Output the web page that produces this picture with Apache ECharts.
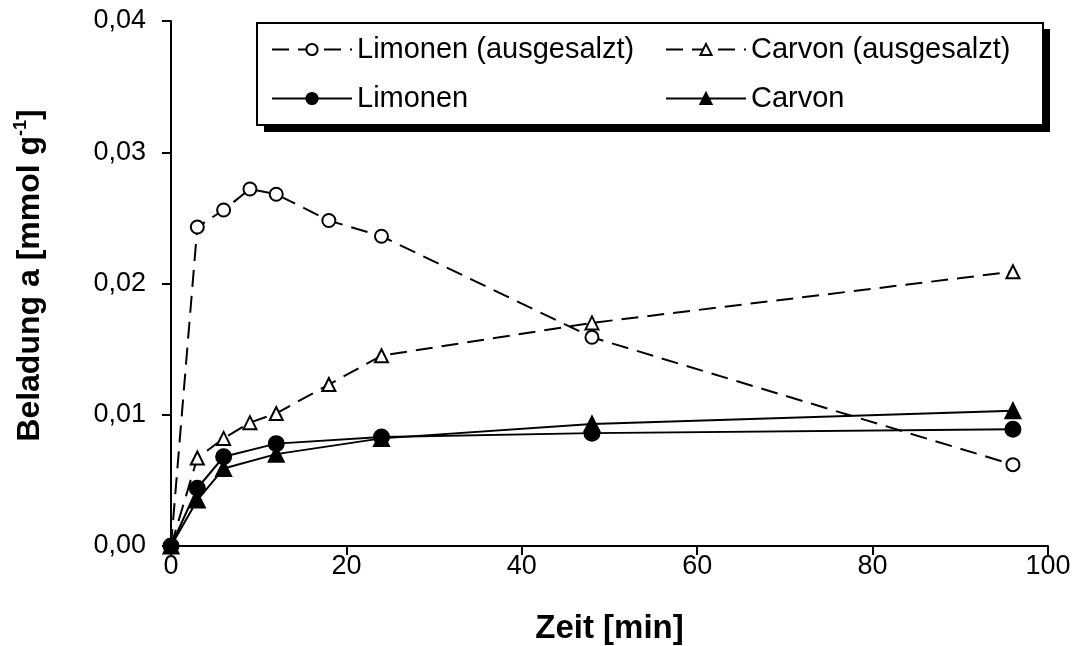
<!DOCTYPE html>
<html>
<head>
<meta charset="utf-8">
<script src="https://cdn.jsdelivr.net/npm/echarts@6/dist/echarts.min.js"></script>
<style>
html,body{margin:0;padding:0;background:#fff;}
#chart{width:1077px;height:646px;}
</style>
</head>
<body>
<div id="chart"></div>
<script>
// Data
const seriesNames = ['Limonen (ausgesalzt)', 'Carvon (ausgesalzt)', 'Limonen', 'Carvon'];
const xSalted = [0, 3, 6, 9, 12, 18, 24, 48, 96];
const limonenSalted = [0, 0.0243, 0.0256, 0.0272, 0.0268, 0.0248, 0.0236, 0.0159, 0.0062];
const carvonSalted = [0, 0.0067, 0.0082, 0.0094, 0.0101, 0.0123, 0.0145, 0.0170, 0.0209];
const xPlain = [0, 3, 6, 12, 24, 48, 96];
const limonenPlain = [0, 0.0044, 0.0068, 0.0078, 0.0083, 0.0086, 0.0089];
const carvonPlain = [0, 0.0035, 0.0059, 0.0070, 0.0082, 0.0093, 0.0103];
const xTicks = [0, 20, 40, 60, 80, 100];
const yTicks = [0, 0.01, 0.02, 0.03, 0.04];

function pairs(xs, ys) { return xs.map((x, i) => [x, ys[i]]); }

const FONT = 'Liberation Sans, Arial, sans-serif';
const chart = echarts.init(document.getElementById('chart'), null, {renderer: 'canvas'});

function mkSeries(name, data, dashed, symbol, filled) {
  return {
    name: name,
    type: 'line',
    data: data,
    symbol: symbol,
    symbolSize: filled ? 15 : 13,
    lineStyle: {color: '#000', width: 2, type: dashed ? [17, 9] : 'solid'},
    itemStyle: {color: filled ? '#000' : '#fff', borderColor: '#000', borderWidth: 2, opacity: 1},
    emphasis: {disabled: true},
    animation: false,
    z: 2
  };
}

const option = {
  backgroundColor: '#fff',
  animation: false,
  grid: {left: 171, right: 29, top: 21, bottom: 100, containLabel: false, outerBoundsMode: 'none'},
  graphic: [{
    type: 'rect', z: 0, silent: true,
    shape: {x: 264, y: 29, width: 786, height: 103},
    style: {fill: '#000'}
  }],
  legend: {
    left: 257, top: 23,
    width: 780,
    padding: [11, 2, 11, 14],
    itemWidth: 80, itemHeight: 14,
    itemGap: 18,
    backgroundColor: '#fff',
    borderColor: '#000', borderWidth: 2,
    z: 5,
    selectedMode: false,
    textStyle: {fontFamily: FONT, fontSize: 29, color: '#000', width: 290, lineHeight: 31},
    data: seriesNames
  },
  xAxis: {
    type: 'value', min: 0, max: 100, interval: 20,
    name: 'Zeit [min]', nameLocation: 'middle', nameGap: 66,
    nameTextStyle: {fontFamily: FONT, fontSize: 33, fontWeight: 'bold', color: '#000'},
    axisLine: {show: true, onZero: false, lineStyle: {color: '#000', width: 2}},
    axisTick: {show: true, inside: false, length: 9, lineStyle: {color: '#000', width: 2}},
    axisLabel: {fontFamily: FONT, fontSize: 27, color: '#000', margin: 7},
    splitLine: {show: false}
  },
  yAxis: {
    type: 'value', min: 0, max: 0.04, interval: 0.01,
    name: 'Beladung a [mmol g{sup|-1}]', nameLocation: 'middle', nameGap: 123, nameRotate: 90,
    nameTextStyle: {fontFamily: FONT, fontSize: 32, fontWeight: 'bold', color: '#000', lineHeight: 36,
      padding: [0, 0, 0, 16],
      rich: {sup: {fontFamily: FONT, fontSize: 18, fontWeight: 'bold', color: '#000', verticalAlign: 'top', lineHeight: 36, padding: [0, 0, 14, 0]}}},
    axisLine: {show: true, lineStyle: {color: '#000', width: 2}},
    axisTick: {show: true, inside: false, length: 9, lineStyle: {color: '#000', width: 2}},
    axisLabel: {fontFamily: FONT, fontSize: 27, color: '#000', margin: 25,
      formatter: v => v.toFixed(2).replace('.', ',')},
    splitLine: {show: false}
  },
  series: [
    mkSeries(seriesNames[0], pairs(xSalted, limonenSalted), true, 'circle', false),
    mkSeries(seriesNames[1], pairs(xSalted, carvonSalted), true, 'triangle', false),
    mkSeries(seriesNames[2], pairs(xPlain, limonenPlain), false, 'circle', true),
    mkSeries(seriesNames[3], pairs(xPlain, carvonPlain), false, 'triangle', true)
  ]
};
chart.setOption(option);
</script>
</body>
</html>
